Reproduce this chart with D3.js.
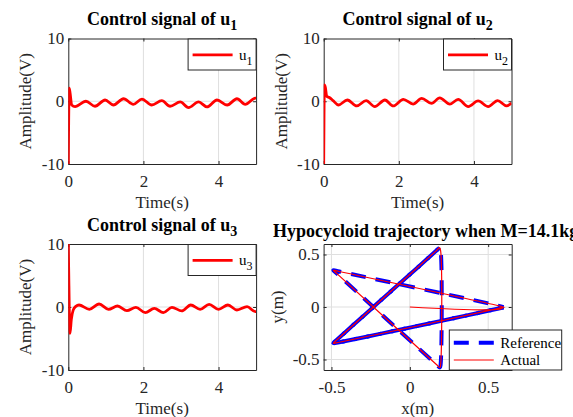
<!DOCTYPE html>
<html>
<head>
<meta charset="utf-8">
<script src="https://cdn.jsdelivr.net/npm/d3@7"></script>
<style>
body { margin: 0; background: #fff; }
text { font-family: "Liberation Serif", "Times New Roman", serif; fill: #262626; }
</style>
</head>
<body>
<svg id="chart" width="573" height="417"></svg>
<script>
// control signals (time in s, amplitude in V)
var u1Time = [0, 0.025, 0.05, 0.09, 0.18, 0.47, 0.71, 0.98, 1.2, 1.47, 1.73, 1.96, 2.22, 2.49, 2.71, 2.98, 3.2, 3.47, 3.69, 3.96, 4.23, 4.49, 4.71, 4.98, 5.0];
var u1Value = [-10, 2.1, 1.2, -0.6, -0.85, 0.0, -0.8, 0.2, -0.6, 0.4, -0.5, 0.35, -0.6, 0.1, -0.8, -0.1, -1.0, -0.1, -0.9, 0.2, -0.6, 0.4, -0.5, 0.5, 0.5];

var u2Time = [0, 0.02, 0.045, 0.08, 0.15, 0.25, 0.39, 0.63, 0.88, 1.13, 1.36, 1.63, 1.85, 2.12, 2.38, 2.61, 2.87, 3.09, 3.36, 3.58, 3.85, 4.11, 4.38, 4.63, 4.87, 5.0];
var u2Value = [-10, 2.6, 2.2, 0.8, 0.6, 0.1, -0.6, 0.2, -0.75, 0.1, -0.85, 0.2, -0.75, 0.3, -0.45, 0.45, -0.35, 0.55, -0.45, 0.3, -0.85, 0.05, -0.85, 0.1, -0.75, -0.3];

var u3Time = [0, 0.01, 0.045, 0.08, 0.13, 0.2, 0.285, 0.56, 0.82, 1.07, 1.31, 1.56, 1.8, 2.05, 2.29, 2.53, 2.76, 3.02, 3.26, 3.51, 3.75, 4.0, 4.25, 4.49, 4.76, 4.98, 5.0];
var u3Value = [10, 6, -4.2, -2.0, -0.5, 0.1, 0.32, -0.37, 0.48, -0.37, 0.16, -0.58, -0.05, -0.9, -0.21, -0.9, -0.05, -0.63, 0.32, -0.37, 0.42, -0.37, 0.32, -0.48, 0.05, -0.74, -0.74];

var timeTicks = [0, 2, 4];
var ampTicks = [-10, 0, 10];
var posTicks = [-0.5, 0, 0.5];

// reference hypocycloid, one lap (tip / depart / approach points of each corner), metres
var refX = [0.598, 0.56, -0.45, -0.488, -0.465, 0.168, 0.19, 0.197, 0.197, 0.192, 0.168, -0.465, -0.488, -0.45, 0.56];
var refY = [-0.002, -0.016, -0.336, -0.345, -0.312, 0.535, 0.566, 0.53, -0.54, -0.576, -0.545, 0.318, 0.35, 0.338, 0.014];
// actual trajectory starts at the origin and jumps to the first corner
var actStartX = [0, 0.571];
var actStartY = [0, -0.021];

var svg = d3.select("#chart");
var axisColor = "#262626";
var gridColor = "#dfdfdf";

function makeAxes(id, left, top, width, height, xDomain, yDomain, xTicks, yTicks) {
    var x = d3.scaleLinear().domain(xDomain).range([left, left + width]);
    var y = d3.scaleLinear().domain(yDomain).range([top + height, top]);
    var g = svg.append("g");

    g.append("clipPath").attr("id", `clip-${id}`)
        .append("rect").attr("x", left).attr("y", top).attr("width", width).attr("height", height);

    // grid
    g.selectAll(".gx").data(xTicks.filter(d => d > xDomain[0] && d < xDomain[1])).enter()
        .append("line")
        .attr("x1", d => x(d)).attr("x2", d => x(d))
        .attr("y1", top).attr("y2", top + height)
        .style("stroke", gridColor).style("stroke-width", 1);
    g.selectAll(".gy").data(yTicks.filter(d => d > yDomain[0] && d < yDomain[1])).enter()
        .append("line")
        .attr("y1", d => y(d)).attr("y2", d => y(d))
        .attr("x1", left).attr("x2", left + width)
        .style("stroke", gridColor).style("stroke-width", 1);

    var fmt = d => String(d);
    var axes = [
        [d3.axisBottom(x).tickFormat(fmt).tickPadding(11.4), top + height, 0],
        [d3.axisTop(x).tickFormat(""), top, 0],
        [d3.axisLeft(y).tickFormat(fmt).tickPadding(4), 0, left],
        [d3.axisRight(y).tickFormat(""), 0, left + width]
    ];
    axes.forEach(function (a, i) {
        var ax = a[0].tickSizeInner(-3).tickSizeOuter(0).tickValues(i < 2 ? xTicks : yTicks);
        var ag = g.append("g").attr("transform", `translate(${a[2]},${a[1]})`).call(ax)
            .attr("font-family", '"Liberation Serif", serif')
            .attr("font-size", 17);
        ag.select(".domain").style("stroke", axisColor);
        ag.selectAll(".tick line").style("stroke", axisColor);
        ag.selectAll(".tick text").style("fill", axisColor);
    });
    return { g: g, x: x, y: y, left: left, top: top, width: width, height: height, clip: `url(#clip-${id})` };
}

function addTitle(ax, text, sub, baseline, startX) {
    var t = ax.g.append("text")
        .attr("x", startX || ax.left + ax.width / 2)
        .attr("y", baseline)
        .attr("text-anchor", startX ? "start" : "middle")
        .style("font-size", "18px")
        .style("font-weight", "bold")
        .style("fill", "#000");
    t.append("tspan").text(text);
    if (sub) {
        t.append("tspan").attr("dy", 5).style("font-size", "14px").text(sub);
    }
}

function addLabels(ax, xLabel, yLabel, xOffset, yOffset) {
    ax.g.append("text")
        .attr("x", ax.left + ax.width / 2)
        .attr("y", ax.top + ax.height + xOffset)
        .attr("text-anchor", "middle")
        .style("font-size", "17px")
        .text(xLabel);
    ax.g.append("text")
        .attr("transform", `translate(${ax.left - yOffset},${ax.top + ax.height / 2}) rotate(-90)`)
        .attr("text-anchor", "middle")
        .style("font-size", "17px")
        .text(yLabel);
}

function drawLegend(ax, left, top, w, h, items) {
    var lg = ax.g.append("g");
    lg.append("rect")
        .attr("x", left).attr("y", top).attr("width", w).attr("height", h)
        .style("fill", "#fff").style("stroke", axisColor).style("stroke-width", 1);
    items.forEach(function (it, i) {
        var yy = top + it.dy;
        lg.append("line")
            .attr("x1", left + 4.5).attr("x2", left + 44.5)
            .attr("y1", yy).attr("y2", yy)
            .style("stroke", it.color).style("stroke-width", it.width)
            .style("stroke-dasharray", it.dash || null);
        var t = lg.append("text")
            .attr("x", left + 51)
            .attr("y", yy + 5)
            .style("font-size", "15px")
            .style("fill", "#000");
        t.append("tspan").text(it.label);
        if (it.sub) {
            t.append("tspan").attr("dy", 5).style("font-size", "12px").text(it.sub);
        }
    });
}

function signalPanel(id, left, top, height, times, values, sub) {
    var ax = makeAxes(id, left, top, 187.8, height, [0, 5], [-10, 10], timeTicks, ampTicks);
    var line = d3.line()
        .x((d, i) => ax.x(times[i]))
        .y(d => ax.y(d))
        .curve(d3.curveMonotoneX);
    ax.g.append("path")
        .attr("d", line(values))
        .attr("clip-path", ax.clip)
        .style("fill", "none").style("stroke", "#ff0000").style("stroke-width", 2.8)
        .style("stroke-linejoin", "round");
    addTitle(ax, "Control signal of u", sub, top - 13.5);
    addLabels(ax, "Time(s)", "Amplitude(V)", 44, 37);
    drawLegend(ax, left + 187.8 - 68, top + 0.5, 68, 31, [
        { label: "u", sub: sub, color: "#ff0000", width: 2.8, dy: 15.8 }
    ]);
    return ax;
}

signalPanel("u1", 68.3, 38.5, 125.5, u1Time, u1Value, "1");
signalPanel("u2", 323.7, 38.5, 125.5, u2Time, u2Value, "2");
signalPanel("u3", 68.3, 244, 126, u3Time, u3Value, "3");

// trajectory panel
var tr = makeAxes("traj", 323.6, 244, 188.1, 126, [-0.55, 0.65], [-0.6, 0.6], posTicks, posTicks);
var loop = refX.map((d, i) => [d, refY[i]]);
// the recorded run covers about 1.4 laps; the repeated part is dashed out of phase
var lapOne = loop.concat([loop[0]]);
var lapExtra = loop.slice(0, 7);
var actPts = actStartX.map((d, i) => [d, actStartY[i]]).concat(lapOne, lapExtra);
var starLine = d3.line()
    .x(d => tr.x(d[0]))
    .y(d => tr.y(d[1]))
    .curve(d3.curveCatmullRom.alpha(0.5));
[[lapOne, 0], [lapExtra, 12.5]].forEach(function (p) {
    tr.g.append("path")
        .attr("d", starLine(p[0]))
        .attr("clip-path", tr.clip)
        .style("fill", "none").style("stroke", "#0000ff").style("stroke-width", 4)
        .style("stroke-dasharray", "15,10")
        .style("stroke-dashoffset", p[1]);
});
tr.g.append("path")
    .attr("d", starLine(actPts))
    .attr("clip-path", tr.clip)
    .style("fill", "none").style("stroke", "#ff0000").style("stroke-width", 1.2);
// title runs past the right edge of the figure, as in the original
addTitle(tr, "Hypocycloid trajectory when M=14.1kg", null, 237, 273);
addLabels(tr, "x(m)", "y(m)", 43.5, 41);
drawLegend(tr, 449.3, 330, 112.4, 40, [
    { label: "Reference", color: "#0000ff", width: 4, dash: "15,10", dy: 12.7 },
    { label: "Actual", color: "#ff0000", width: 1.2, dy: 30 }
]);
</script>
</body>
</html>
